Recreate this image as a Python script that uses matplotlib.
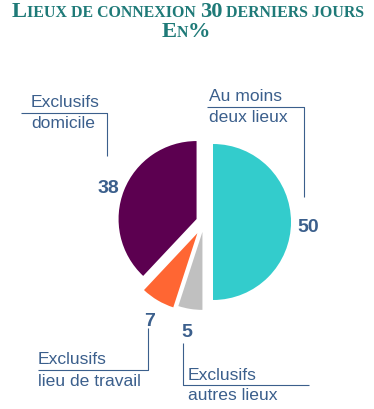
import matplotlib
matplotlib.use('Agg')
import matplotlib.pyplot as plt

# Data
labels = ["Au moins\ndeux lieux", "Exclusifs\nautres lieux", "Exclusifs\nlieu de travail", "Exclusifs\ndomicile"]
values = [50, 5, 7, 38]
colors = ["#33cccc", "#c0c0c0", "#ff6633", "#5c0050"]
explode = [9, 10, 13, 8]   # pie offsets, in pixels here

W, H = 374, 410
TXT = "#3b5f8c"
TITLE = "#1f7a78"


def py(y):
    # pixel row (from top) -> data y
    return H - y


fig = plt.figure(figsize=(W / 100, H / 100), dpi=100)
ax = fig.add_axes([0, 0, 1, 1])

ax.pie(values, colors=colors, explode=explode, startangle=90, counterclock=False,
       center=(204, py(223)), radius=78, wedgeprops=dict(linewidth=0))
ax.set_xlim(0, W)
ax.set_ylim(0, H)
ax.set_aspect('equal')
ax.axis('off')

renderer = fig.canvas.get_renderer()


def smallcaps(parts, xc, ybase):
    # draw pieces side by side, then centre the whole string
    items = []
    total = 0
    for s, size in parts:
        t = ax.text(0, py(ybase), s, fontsize=size, family='Liberation Serif',
                    weight='bold', color=TITLE, va='baseline', ha='left')
        w = t.get_window_extent(renderer).width
        items.append((t, w))
        total += w
    x = xc - total / 2
    for t, w in items:
        t.set_x(x)
        x += w


big, small = 16.2, 11.4
smallcaps([("L", big), ("IEUX DE CONNEXION ", small), ("30", big),
           (" DERNIERS JOURS", small)], 188, 17)
smallcaps([("E", big), ("N", small), ("%", big)], 186, 37)

# numbers
nfont = dict(fontsize=14, weight='bold', color=TXT, family='Liberation Sans',
             ha='center', va='baseline')
ax.text(308, py(232), str(values[0]), **nfont)
ax.text(187, py(337), str(values[1]), **nfont)
ax.text(150, py(326), str(values[2]), **nfont)
ax.text(108, py(193), str(values[3]), **nfont)

# category labels
lfont = dict(fontsize=12.6, color=TXT, family='Liberation Sans', ha='left', va='baseline')
label_pos = [(209, 101, 122), (188, 380, 400), (38, 364, 386), (31, 107, 128)]
for lab, (x, y1, y2) in zip(labels, label_pos):
    l1, l2 = lab.split("\n")
    ax.text(x, py(y1), l1, **lfont)
    ax.text(x, py(y2), l2, **lfont)

# leader lines
lk = dict(color=TXT, lw=0.8, solid_capstyle='butt')
ax.plot([207, 304, 304], [py(108), py(108), py(198)], **lk)
ax.plot([21, 107, 107], [py(114), py(114), py(157)], **lk)
ax.plot([38, 148, 148], [py(371), py(371), py(329)], **lk)
ax.plot([309, 183, 183], [py(386), py(386), py(344)], **lk)

fig.savefig("out.png", dpi=100, facecolor='white')
